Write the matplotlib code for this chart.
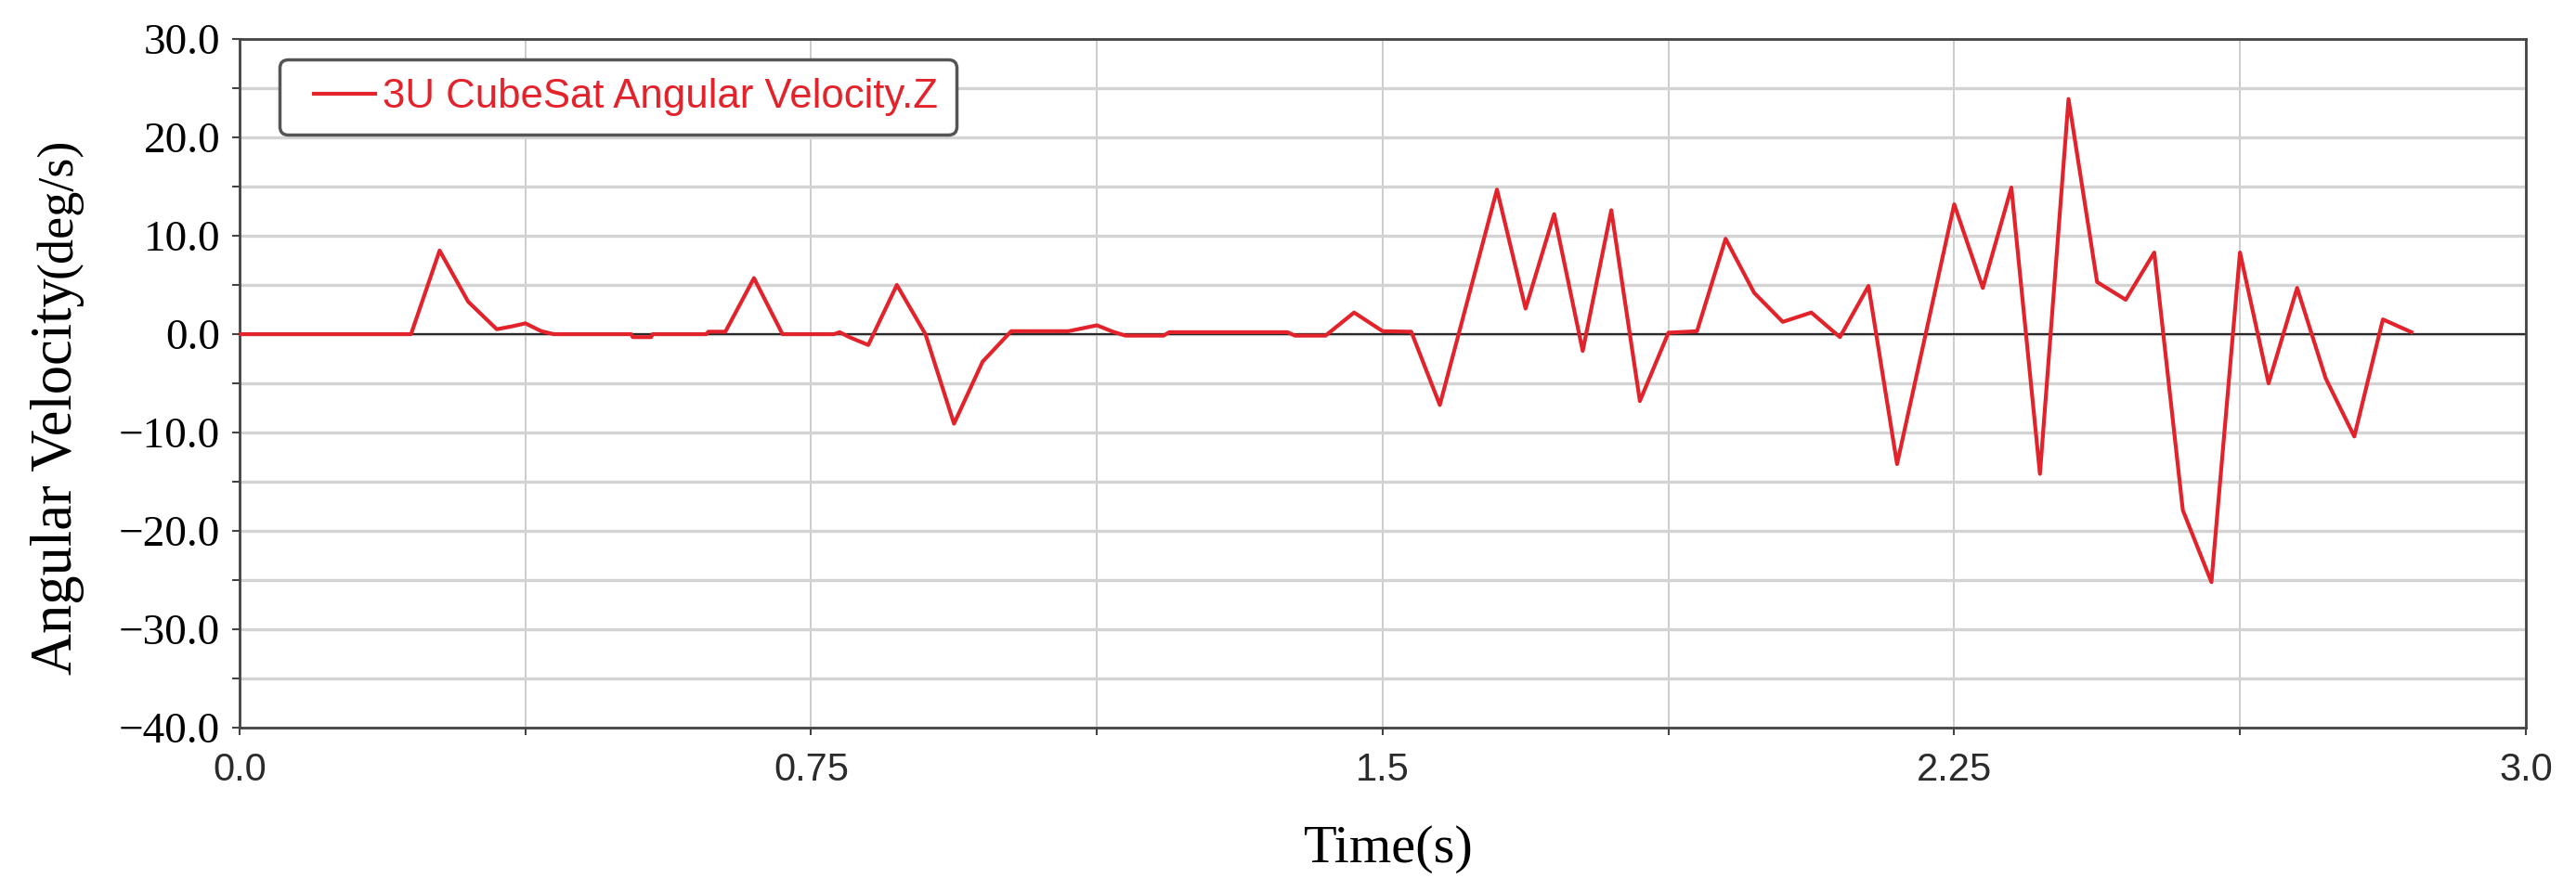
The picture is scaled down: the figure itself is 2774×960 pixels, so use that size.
import matplotlib.pyplot as plt
from matplotlib.ticker import MultipleLocator, FuncFormatter
from matplotlib.legend_handler import HandlerLine2D

# angular velocity about Z
time_s = [0.0, 0.225, 0.2625, 0.30, 0.3375, 0.358,
          0.375, 0.396, 0.4125, 0.514, 0.516, 0.54,
          0.542, 0.6125, 0.615, 0.6375, 0.675, 0.7125,
          0.78, 0.7875, 0.80, 0.825, 0.8625, 0.90,
          0.9375, 0.975, 1.0125, 1.0875, 1.125, 1.146,
          1.1625, 1.2125, 1.22, 1.375, 1.385, 1.425,
          1.4625, 1.50, 1.5375, 1.575, 1.65, 1.6875,
          1.725, 1.7625, 1.80, 1.8375, 1.875, 1.9125,
          1.95, 1.9875, 2.025, 2.0625, 2.10, 2.1375,
          2.175, 2.25, 2.2875, 2.325, 2.3625, 2.40,
          2.4375, 2.475, 2.5125, 2.55, 2.5875, 2.625,
          2.6625, 2.70, 2.7375, 2.775, 2.8125, 2.85]
omega_z = [0.0, 0.0, 8.5, 3.3, 0.5, 0.8,
           1.1, 0.3, 0.0, 0.0, -0.3, -0.3,
           0.0, 0.0, 0.25, 0.25, 5.7, 0.0,
           0.0, 0.2, -0.3, -1.1, 5.0, 0.0,
           -9.1, -2.8, 0.3, 0.3, 0.9, 0.25,
           -0.15, -0.15, 0.2, 0.2, -0.15, -0.15,
           2.2, 0.3, 0.25, -7.2, 14.7, 2.6,
           12.2, -1.7, 12.6, -6.8, 0.15, 0.3,
           9.7, 4.2, 1.25, 2.2, -0.3, 4.9,
           -13.2, 13.2, 4.7, 14.9, -14.2, 23.9,
           5.3, 3.5, 8.3, -17.9, -25.2, 8.3,
           -5.0, 4.7, -4.5, -10.4, 1.5, 0.2]

x_ticks = [0.0, 0.75, 1.5, 2.25, 3.0]
x_labels = ["0.0", "0.75", "1.5", "2.25", "3.0"]
y_ticks = [30, 20, 10, 0, -10, -20, -30, -40]

fig = plt.figure(figsize=(27.74, 9.6), dpi=100)
ax = fig.add_axes([0.093, 0.1833, 0.8875, 0.7729])

line, = ax.plot(time_s, omega_z, color="#e3232b", lw=3.0,
                label="3U CubeSat Angular Velocity.Z", zorder=3)
ax.axhline(0, color="#2a2a2a", lw=1.6, zorder=2)

ax.set_xlim(0, 3)
ax.set_ylim(-40, 30)
ax.set_xticks(x_ticks)
ax.set_xticklabels(x_labels)
ax.xaxis.set_minor_locator(MultipleLocator(0.375))
ax.set_yticks(y_ticks)
ax.yaxis.set_major_formatter(FuncFormatter(lambda v, p: f"{v:.1f}".replace("-", "\u2212")))
ax.yaxis.set_minor_locator(MultipleLocator(5))

ax.grid(axis="x", which="both", color="#c4c4c4", lw=1.2)
ax.grid(axis="y", which="both", color="#d3d3d3", lw=2.4)
ax.set_axisbelow(True)

for sp in ax.spines.values():
    sp.set_color("#444444")
    sp.set_linewidth(2)

ax.tick_params(axis="both", which="both", direction="out", length=6,
               width=1.5, color="#444444")
ax.tick_params(axis="x", labelsize=30, labelcolor="#2b2b2b", pad=13,
               labelfontfamily="Liberation Sans")
ax.tick_params(axis="y", labelsize=34, labelcolor="black", pad=9,
               labelfontfamily="Liberation Serif")

leg = ax.legend(loc="upper left", bbox_to_anchor=(0.0175, 0.970),
                borderaxespad=0, prop={"family": "Liberation Sans", "size": 31.5},
                handlelength=1.9, handletextpad=0.19, borderpad=0.45,
                fancybox=True, framealpha=1, edgecolor="#555555",
                labelcolor="linecolor",
                handler_map={line: HandlerLine2D(xpad=0.4)})
leg.get_frame().set_linewidth(2.5)

# axis titles
fig.text(0.0278, 0.2427, "Angular Velocity", rotation=90, rotation_mode="anchor",
         ha="left", va="baseline", family="Liberation Serif", size=45)
fig.text(0.0278, 0.6885, "(deg/s)", rotation=90, rotation_mode="anchor",
         ha="left", va="baseline", family="Liberation Serif", size=39)
fig.text(0.539, 0.033, "Time(s)", ha="center", va="baseline",
         family="Liberation Serif", size=42)

fig.savefig("out.png", dpi=100)
plt.close()
